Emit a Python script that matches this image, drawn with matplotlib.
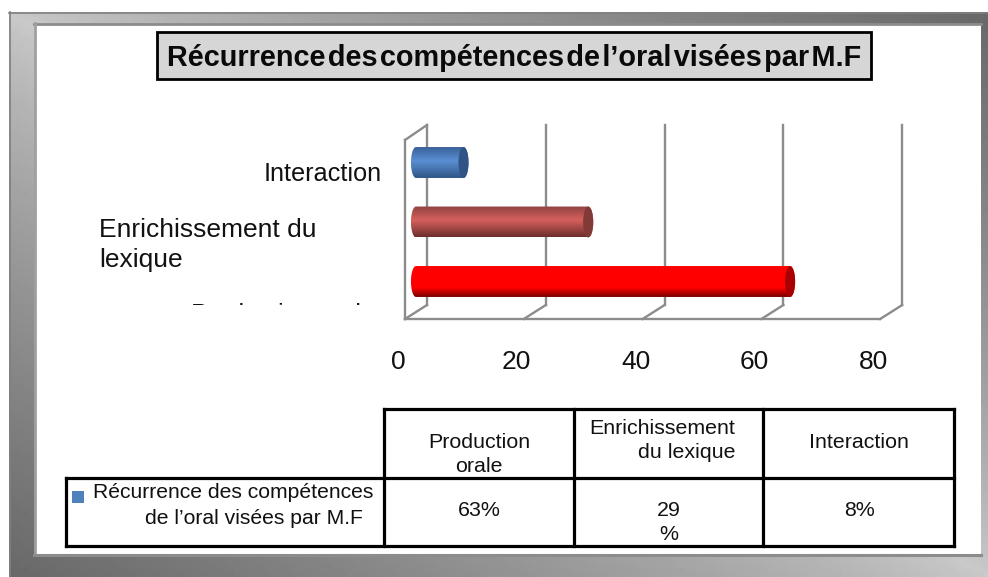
import numpy as np
import matplotlib
matplotlib.use("Agg")
import matplotlib.pyplot as plt
from matplotlib.colors import to_rgb
from matplotlib.patches import Rectangle, Ellipse, PathPatch
from matplotlib.path import Path

plt.rcParams["font.family"] = ["Liberation Sans", "DejaVu Sans"]

# data
categories = ["Production orale", "Enrichissement du lexique", "Interaction"]
values = [63, 29, 8]
value_labels = ["63%", "29\n%", "8%"]
x_ticks = [0, 20, 40, 60, 80]
series_name = "Récurrence des compétences de l’oral visées par M.F"
title = "Récurrence\u200ades\u200acompétences\u200ade\u200al’oral\u200avisées\u200apar\u200aM.F"

# (top, middle, bottom, end cap)
bar_colors = [
    ("#e00000", "#ff0000", "#7a0000", "#a80000"),
    ("#8f4442", "#d65f5c", "#6c2f2e", "#823a38"),
    ("#3a6299", "#5a8fd4", "#2f5585", "#2f5485"),
]

W, H = 988, 577
fig = plt.figure(figsize=(W / 100, H / 100), dpi=100, facecolor="white")

# full-figure axes in pixels for frame, walls and table
bg = fig.add_axes([0, 0, 1, 1])
bg.set_xlim(0, W)
bg.set_ylim(H, 0)
bg.axis("off")

# grey frame with the diagonal shading
xx, yy = np.meshgrid(np.linspace(0, 1, 200), np.linspace(0, 1, 120))
shade = 0.79 - 0.38 * np.abs(xx - yy) ** 0.8
bg.imshow(shade, cmap="gray", vmin=0, vmax=1, extent=(9, W, H, 12), aspect="auto", zorder=1)
bg.plot([9, W], [12.5, 12.5], color="#808080", lw=1.2, zorder=2)
bg.plot([9.5, 9.5], [12, H], color="#808080", lw=1.2, zorder=2)
bg.add_patch(Rectangle((35, 25), 946, 529, fc="white", ec="none", zorder=3))
bg.plot([34, 981], [24, 24], color="#8c8c8c", lw=2, zorder=3)
bg.plot([34.5, 34.5], [23, 555], color="#a0a0a0", lw=2, zorder=3)
bg.plot([34, 981], [555, 555], color="#8c8c8c", lw=2.2, zorder=3)

# title box
bg.add_patch(Rectangle((157, 32), 714, 47, facecolor="#d6d6d6", edgecolor="black", lw=2, zorder=4))
bg.text(514, 58, title, ha="center", va="center", fontsize=20.8, fontweight="bold",
        color="#0a0a0a", zorder=5)

# 3d walls behind the bars
wall = "#8c8c8c"
step = 118.8
for i, t in enumerate(x_ticks):
    bx = 427 + step * i
    fx = 405 + step * i
    bg.plot([bx, bx], [125, 305], color=wall, lw=1.7, zorder=4)
    bg.plot([fx, bx], [319, 305], color=wall, lw=1.7, zorder=4)
bg.plot([405, 405], [140, 319], color=wall, lw=1.7, zorder=4)
bg.plot([405, 427], [140, 125], color=wall, lw=1.7, zorder=4)
bg.plot([405, 880], [319, 319], color=wall, lw=1.7, zorder=4)

# bars, on a real data axes
ax = fig.add_axes([416 / W, (H - 311.25) / H, 475 / W, 178.5 / H])
ax.patch.set_alpha(0)
ax.axis("off")
ax.set_xlim(0, 80)
ax.set_ylim(-0.5, 2.5)
ax.set_autoscale_on(False)

bar_h = 0.52
cap_w = 1.7
ys = np.arange(len(categories))
ax.barh(ys, values, height=bar_h, color="none", edgecolor="none")
for y, v, cols in zip(ys, values, bar_colors):
    top, mid, bot, cap = [np.array(to_rgb(c)) for c in cols]
    pos = np.linspace(0, 1, 64)[:, None]
    grad = np.where(pos < 0.45, top + (mid - top) * pos / 0.45,
                    mid + (bot - mid) * (pos - 0.45) / 0.55)
    if cols[1] == "#ff0000":
        grad = np.where(pos < 0.7, np.array([1.0, 0, 0]), mid + (bot - mid) * (pos - 0.7) / 0.3)
    im = ax.imshow(grad[:, None, :], extent=(-cap_w / 2, v + cap_w / 2, y - bar_h / 2, y + bar_h / 2),
                   origin="upper", aspect="auto", zorder=3)
    ang = np.linspace(np.pi / 2, 3 * np.pi / 2, 30)
    px = np.r_[cap_w / 2 * np.cos(ang), v + cap_w / 2 * np.cos(ang[::-1] + np.pi)]
    py = np.r_[y + bar_h / 2 * np.sin(ang), y + bar_h / 2 * np.sin(ang[::-1])]
    outline = PathPatch(Path(np.c_[px, py]), fc="none", ec="none", transform=ax.transData)
    ax.add_patch(outline)
    outline.set_clip_on(False)
    im.set_clip_box(fig.bbox)  # the rounded left end sits outside the axes
    im.set_clip_path(outline)
    ax.add_patch(Ellipse((v, y), cap_w, bar_h, fc=cap, ec="none", zorder=4, clip_on=False))

# value axis labels, shifted to the front edge of the floor
for t in x_ticks:
    ax.annotate(str(t), xy=(t, 0), xycoords=("data", "axes fraction"), xytext=(-18, -51),
                textcoords="offset pixels", ha="center", va="center", fontsize=19, color="#111111")

# category labels
bg.text(382, 174, categories[2], ha="right", va="center", fontsize=18.2, color="#111111", zorder=5)
bg.text(99, 245, "Enrichissement du\nlexique", ha="left", va="center", fontsize=19,
        color="#111111", linespacing=1.3, zorder=5)
clip = Rectangle((100, 200), 300, 105, transform=bg.transData)
lab = bg.text(191, 322, categories[0], ha="left", va="baseline", fontsize=18.2, color="#111111", zorder=5)
lab.set_clip_on(True)
lab.set_clip_path(clip)

# data table
grid_lw = 2.3
bg.plot([384, 954], [409, 409], color="black", lw=grid_lw, zorder=5)
bg.plot([66, 954], [478, 478], color="black", lw=grid_lw, zorder=5)
bg.plot([66, 954], [546, 546], color="black", lw=grid_lw, zorder=5)
bg.plot([66, 66], [478, 546], color="black", lw=grid_lw, zorder=5)
for cx in [384, 574, 763, 954]:
    bg.plot([cx, cx], [409, 546], color="black", lw=grid_lw, zorder=5)

cell = dict(fontsize=15.4, color="#111111", va="center", zorder=6)
bg.text(479, 442, "Production", ha="center", **cell)
bg.text(479, 466, "orale", ha="center", **cell)
bg.text(735, 428, "Enrichissement", ha="right", **cell)
bg.text(735, 452, "du lexique", ha="right", **cell)
bg.text(859, 442, categories[2], ha="center", **cell)
bg.text(479, 510, value_labels[0], ha="center", **cell)
v1, v2 = value_labels[1].split("\n")
bg.text(669, 510, v1, ha="center", **cell)
bg.text(669, 534, v2, ha="center", **cell)
bg.text(859, 510, value_labels[2], ha="center", **cell)
row = dict(cell, fontsize=15.2)
bg.text(373, 493, series_name[:26], ha="right", **row)
bg.text(363, 518, series_name[27:], ha="right", **row)
bg.add_patch(Rectangle((72, 491), 12, 12, fc="#4f81bd", ec="none", zorder=6))

fig.savefig("out.png", dpi=100)
